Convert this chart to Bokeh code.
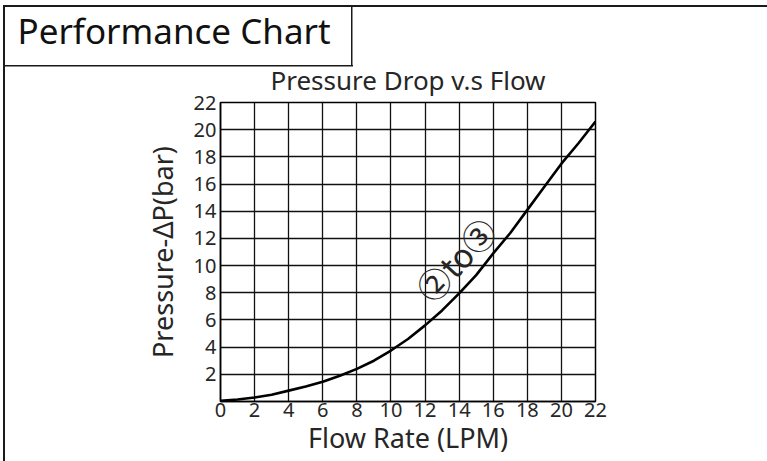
from bokeh.plotting import figure
from bokeh.models import Label, FixedTicker, Range1d, Title
from bokeh.embed import file_html
from bokeh.resources import INLINE

# ---- data ----
flow_lpm = [0, 1, 2, 3, 4, 5, 6, 7, 8, 9, 10, 11, 12, 13, 14, 15, 16, 17, 18, 19, 20, 21, 22]
pressure_bar = [0.05, 0.15, 0.3, 0.5, 0.8, 1.1, 1.45, 1.9, 2.4, 3.0, 3.75, 4.6, 5.6, 6.7,
                7.95, 9.3, 10.9, 12.4, 14.1, 15.8, 17.5, 19.0, 20.6]
x_ticks = [0, 2, 4, 6, 8, 10, 12, 14, 16, 18, 20, 22]
y_ticks = [2, 4, 6, 8, 10, 12, 14, 16, 18, 20, 22]
curve_label = "②to③"
curve_label_pos = (13.8, 10.45)

FONT = "Noto Sans"
TXT = "#262626"
LINE = "#1a1a1a"

# decorative outer frame + header box (drawn as CSS background lines behind the canvas)
frame_css = {
    "background-image": ", ".join([f"linear-gradient({LINE},{LINE})"] * 4),
    "background-size": "2px 100%, 100% 2px, 1.5px 61px, 350px 1.5px",
    "background-position": "3px 5px, 3px 5px, 351px 5px, 3px 65px",
    "background-repeat": "no-repeat",
}

p = figure(width=767, height=461, output_backend="svg", toolbar_location=None,
           x_range=Range1d(0, 22), y_range=Range1d(0, 22),
           min_border_left=220, min_border_right=172, min_border_top=102, min_border_bottom=60,
           styles=frame_css)
p.border_fill_color = None
p.background_fill_color = "white"

# header title (outermost)
p.title.text = "Performance Chart"
p.title.align = "left"
p.title.offset = -203
p.title.text_font = FONT
p.title.text_font_size = "35px"
p.title.text_font_style = "normal"
p.title.text_color = "#111111"
p.title.standoff = 2

# chart title (next to the frame)
p.add_layout(Title(text="Pressure Drop v.s Flow", align="center", text_font=FONT,
                   text_font_size="26px", text_font_style="normal", text_color=TXT), "above")

p.xaxis.ticker = FixedTicker(ticks=x_ticks)
p.yaxis.ticker = FixedTicker(ticks=y_ticks)
p.xaxis.axis_label = "Flow Rate (LPM)"
p.yaxis.axis_label = "Pressure-\u0394P(bar)"
for ax in (p.xaxis[0], p.yaxis[0]):
    ax.major_tick_out = 0
    ax.major_tick_in = 0
    ax.minor_tick_out = 0
    ax.minor_tick_in = 0
    ax.axis_line_color = "black"
    ax.axis_line_width = 1.5
    ax.major_label_text_font = FONT
    ax.major_label_text_font_size = "20px"
    ax.major_label_text_color = TXT
    ax.axis_label_text_font = FONT
    ax.axis_label_text_font_size = "27px"
    ax.axis_label_text_font_style = "normal"
    ax.axis_label_text_color = TXT
p.xaxis.major_label_standoff = 1
p.yaxis.major_label_standoff = 4
p.xaxis.axis_label_standoff = -1
p.yaxis.axis_label_standoff = 10

p.grid.grid_line_color = "#111111"
p.grid.grid_line_width = 1.3
p.grid.grid_line_alpha = 1.0
p.outline_line_color = "black"
p.outline_line_width = 1.5

p.line(flow_lpm, pressure_bar, line_color="black", line_width=2.6)

p.add_layout(Label(x=curve_label_pos[0], y=curve_label_pos[1], text=curve_label, angle=47,
                   angle_units="deg", text_align="center", text_baseline="middle",
                   text_font="Noto Sans CJK JP", text_font_size="33px", text_color=TXT))

open("out.html", "w").write(file_html(p, INLINE))
